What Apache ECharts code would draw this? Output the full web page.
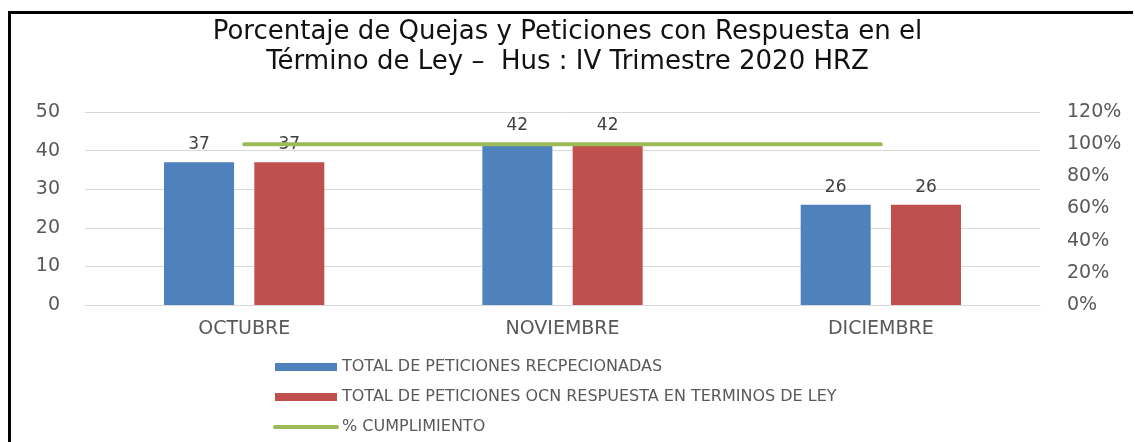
<!DOCTYPE html>
<html>
<head>
<meta charset="utf-8">
<script src="https://cdn.jsdelivr.net/npm/echarts@6/dist/echarts.min.js"></script>
<style>
body{margin:0;background:#fff;}
#wrap{position:relative;width:1135px;height:442px;}
#chart{width:1135px;height:442px;}
#marco{position:absolute;left:8px;top:11px;right:2px;bottom:0;border-left:3px solid #000;border-top:3px solid #000;pointer-events:none;}
</style>
</head>
<body>
<div id="wrap">
	<div id="chart"></div>
	<div id="marco"></div>
</div>
<script>
var meses = ['OCTUBRE', 'NOVIEMBRE', 'DICIEMBRE'];
var recepcionadas = [37, 42, 26];
var conRespuesta = [37, 42, 26];
var cumplimiento = [100, 100, 100];
var nombres = ['TOTAL DE PETICIONES RECPECIONADAS', 'TOTAL DE PETICIONES OCN RESPUESTA EN TERMINOS DE LEY', '% CUMPLIMIENTO'];

function init(){
	var fuente = 'DejaVu Sans';
	var gris = '#595959';
	var etiqueta = {
		show: true,
		position: 'top',
		distance: 9,
		color: '#404040',
		fontSize: 17,
		fontFamily: fuente
	};
	var option = {
		title: {
			text: 'Porcentaje de Quejas y Peticiones con Respuesta en el\nTérmino de Ley –  Hus : IV Trimestre 2020 HRZ',
			left: 'center',
			top: 12,
			textStyle: {
				color: '#111',
				fontWeight: 'normal',
				fontSize: 26,
				lineHeight: 30,
				fontFamily: fuente
			}
		},
		legend: {
			orient: 'vertical',
			left: 273,
			top: 359,
			padding: 0,
			itemWidth: 62,
			itemHeight: 8,
			itemGap: 14,
			textStyle: {
				color: gris,
				fontSize: 16,
				fontFamily: fuente
			},
			data: [
				{name: nombres[0], icon: 'rect'},
				{name: nombres[1], icon: 'rect'},
				{name: nombres[2], lineStyle: {width: 4, color: '#9bbb59', cap: 'round'}, itemStyle: {opacity: 0}}
			]
		},
		grid: {
			left: 85,
			right: 95,
			top: 112,
			bottom: 137
		},
		xAxis: {
			type: 'category',
			data: meses,
			axisTick: {show: false},
			axisLine: {lineStyle: {color: '#d9d9d9'}},
			axisLabel: {
				color: gris,
				fontSize: 19,
				margin: 15,
				fontFamily: fuente
			}
		},
		yAxis: [
			{
				type: 'value',
				min: 0,
				max: 50,
				interval: 10,
				axisLine: {show: false},
				axisTick: {show: false},
				splitLine: {lineStyle: {color: '#d9d9d9'}},
				axisLabel: {
					color: gris,
					fontSize: 19,
					margin: 25,
					fontFamily: fuente
				}
			},
			{
				type: 'value',
				min: 0,
				max: 120,
				interval: 20,
				axisLine: {show: false},
				axisTick: {show: false},
				splitLine: {show: false},
				axisLabel: {
					color: gris,
					fontSize: 19,
					margin: 27,
					formatter: '{value}%',
					fontFamily: fuente
				}
			}
		],
		series: [
			{
				name: nombres[0],
				type: 'bar',
				data: recepcionadas,
				barWidth: 70,
				barGap: '29%',
				itemStyle: {color: '#4f81bd'},
				label: etiqueta
			},
			{
				name: nombres[1],
				type: 'bar',
				data: conRespuesta,
				barWidth: 70,
				itemStyle: {color: '#c0504d'},
				label: etiqueta
			},
			{
				name: nombres[2],
				type: 'line',
				yAxisIndex: 1,
				data: cumplimiento,
				symbol: 'none',
				itemStyle: {color: '#9bbb59'},
				lineStyle: {color: '#9bbb59', width: 4, cap: 'round'},
				z: 3
			}
		]
	};

	var myChart = echarts.init(document.getElementById('chart'));
	myChart.setOption(option);
}
init();
</script>
</body>
</html>
